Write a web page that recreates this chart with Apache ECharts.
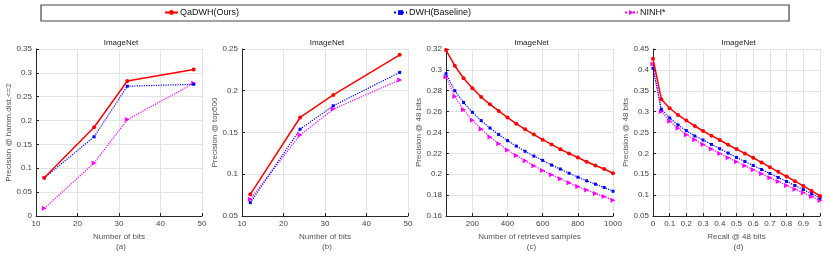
<!DOCTYPE html>
<html><head><meta charset="utf-8">
<script src="https://cdn.jsdelivr.net/npm/echarts@6/dist/echarts.min.js"></script>
<style>html,body{margin:0;padding:0;background:#fff}#c{width:830px;height:259px}</style>
</head><body><div id="c"></div>
<script>
// ---- data ----
const seriesNames = ['QaDWH(Ours)', 'DWH(Baseline)', 'NINH*'];
const bitsX = [12, 24, 32, 48];
const hammRed = [0.080, 0.186, 0.283, 0.307];
const hammBlue = [0.080, 0.166, 0.272, 0.276];
const hammMag = [0.016, 0.111, 0.202, 0.278];

const topRed = [0.076, 0.168, 0.195, 0.243];
const topBlue = [0.066, 0.154, 0.182, 0.222];
const topMag = [0.070, 0.147, 0.178, 0.213];

const samplesX = [50,100,150,200,250,300,350,400,450,500,550,600,650,700,750,800,850,900,950,1000];
const sampRed = [0.319,0.304,0.292,0.2825,0.274,0.267,0.2607,0.2543,0.2485,0.243,0.238,0.2331,0.2286,0.224,0.220,0.216,0.212,0.2084,0.205,0.201];
const sampBlue = [0.2963,0.280,0.2687,0.2594,0.2514,0.2443,0.238,0.2322,0.227,0.222,0.2174,0.2133,0.2088,0.205,0.201,0.1972,0.1937,0.1905,0.1873,0.1837];
const sampMag = [0.2931,0.2745,0.2617,0.2517,0.2434,0.2357,0.2293,0.2232,0.218,0.213,0.2081,0.2036,0.1995,0.1956,0.1918,0.1882,0.185,0.1815,0.1786,0.1751];

const recallX = [0,0.05,0.1,0.15,0.2,0.25,0.3,0.35,0.4,0.45,0.5,0.55,0.6,0.65,0.7,0.75,0.8,0.85,0.9,0.95,1];
const prRed = [0.4268,0.3298,0.308,0.292,0.2785,0.2656,0.2536,0.2424,0.232,0.2207,0.2103,0.1999,0.1895,0.1783,0.167,0.1558,0.1446,0.1334,0.1221,0.1101,0.0981];
const prBlue = [0.4035,0.3057,0.2849,0.268,0.2544,0.2416,0.232,0.2215,0.2111,0.2007,0.1903,0.1807,0.1711,0.1615,0.1518,0.1422,0.1326,0.123,0.1133,0.1037,0.0925];
const prMag = [0.414,0.3001,0.2769,0.260,0.2448,0.2328,0.2215,0.2103,0.1999,0.1895,0.1799,0.1703,0.1607,0.151,0.1414,0.1326,0.123,0.1142,0.1054,0.0966,0.087];

const panelTitles = ['ImageNet','ImageNet','ImageNet','ImageNet'];
const xNames = ['Number of bits','Number of bits','Number of retrieved samples','Recall @ 48 bits'];
const yNames = ['Precision @ hamm.dist.<=2','Precision @ top500','Precision @ 48 bits','Precision @ 48 bits'];
const subLabels = ['(a)','(b)','(c)','(d)'];

// ---- layout ----
const FONT = 'Liberation Sans, Arial, sans-serif';
const grids = [
  {left: 36, top: 49, width: 166, height: 167},
  {left: 242, top: 49, width: 166, height: 167},
  {left: 446, top: 49, width: 167, height: 167},
  {left: 653, top: 49, width: 167, height: 167}
];
const xCfg = [
  {min: 10, max: 50, interval: 10},
  {min: 10, max: 50, interval: 10},
  {min: 50, max: 1000, custom: [200,400,600,800,1000]},
  {min: 0, max: 1, interval: 0.1}
];
const yCfg = [
  {min: 0, max: 0.35, interval: 0.05},
  {min: 0.05, max: 0.25, interval: 0.05},
  {min: 0.16, max: 0.32, interval: 0.02},
  {min: 0.05, max: 0.45, interval: 0.05}
];
const nameGapY = [20, 20, 19, 20];

const axisLine = {show: true, lineStyle: {color: '#262626', width: 1}};
const grid = grids.map(g => Object.assign({containLabel: false}, g));
const xAxis = xCfg.map((c, i) => {
  const a = {
    type: 'value', gridIndex: i, min: c.min, max: c.max,
    name: xNames[i], nameLocation: 'middle', nameGap: 14,
    nameTextStyle: {color: '#555', fontSize: 8, fontFamily: FONT},
    axisLine: axisLine,
    axisTick: {show: true, inside: true, length: 3, lineStyle: {color: '#262626'}},
    axisLabel: {color: '#444', fontSize: 8, fontFamily: FONT, margin: 4,
      formatter: v => String(+v.toFixed(4))},
    splitLine: {show: true, lineStyle: {color: '#e3e3e3', width: 1}}
  };
  if (c.custom) {
    a.axisLabel.customValues = c.custom;
    a.axisTick.customValues = c.custom;
  } else {
    a.interval = c.interval;
  }
  return a;
});
const yAxis = yCfg.map((c, i) => ({
  type: 'value', gridIndex: i, min: c.min, max: c.max, interval: c.interval,
  name: yNames[i], nameLocation: 'middle', nameGap: nameGapY[i],
  nameTextStyle: {color: '#555', fontSize: 8, fontFamily: FONT},
  axisLine: axisLine,
  axisTick: {show: true, inside: true, length: 3, lineStyle: {color: '#262626'}},
  axisLabel: {color: '#444', fontSize: 8, fontFamily: FONT, margin: 4,
    formatter: v => String(+v.toFixed(4))},
  splitLine: {show: true, lineStyle: {color: '#e3e3e3', width: 1}}
}));

const styles = [
  {color: '#ff0000', symbol: 'circle', symbolSize: 4, type: 'solid', width: 1.5, rot: 0},
  {color: '#0000ff', symbol: 'rect', symbolSize: 3, type: 'dotted', width: 1.2, rot: 0},
  {color: '#ff00ff', symbol: 'triangle', symbolSize: 5, type: 'dotted', width: 1.2, rot: -90}
];
const panelData = [
  [bitsX, [hammRed, hammBlue, hammMag]],
  [bitsX, [topRed, topBlue, topMag]],
  [samplesX, [sampRed, sampBlue, sampMag]],
  [recallX, [prRed, prBlue, prMag]]
];
const series = [];
panelData.forEach(([xs, ys], p) => {
  ys.forEach((vals, k) => {
    const s = styles[k];
    series.push({
      type: 'line', name: seriesNames[k], xAxisIndex: p, yAxisIndex: p,
      data: xs.map((x, j) => [x, vals[j]]),
      symbol: s.symbol, symbolSize: s.symbolSize, symbolRotate: s.rot,
      showSymbol: true, animation: false, z: 10 - k,
      itemStyle: {color: s.color},
      lineStyle: {color: s.color, width: s.width, type: s.type}
    });
  });
});

const title = [];
grids.forEach((g, i) => {
  title.push({text: panelTitles[i], left: g.left + g.width / 2, top: 37, textAlign: 'center',
    padding: 2,
    textStyle: {fontSize: 8, fontWeight: 'normal', color: '#222', fontFamily: FONT}});
  title.push({text: subLabels[i], left: g.left + g.width / 2, top: 241, textAlign: 'center',
    padding: 2,
    textStyle: {fontSize: 8, fontWeight: 'normal', color: '#555', fontFamily: FONT}});
});

const legendX = [164, 393, 624];
const legend = seriesNames.map((n, k) => ({
  data: [n], left: legendX[k], top: 8, itemWidth: 13, itemHeight: 6, itemGap: 2,
  textStyle: {fontSize: 9, color: '#111', fontFamily: FONT, padding: [0, 0, 0, -3]},
  padding: 0
}));

const chart = echarts.init(document.getElementById('c'), null, {renderer: 'canvas'});
chart.setOption({
  backgroundColor: '#fff',
  animation: false,
  title, legend, grid, xAxis, yAxis, series,
  graphic: [{type: 'rect', shape: {x: 41, y: 5, width: 748, height: 16},
    style: {fill: 'none', stroke: '#444', lineWidth: 1.2}, z: 100}]
});
</script></body></html>
